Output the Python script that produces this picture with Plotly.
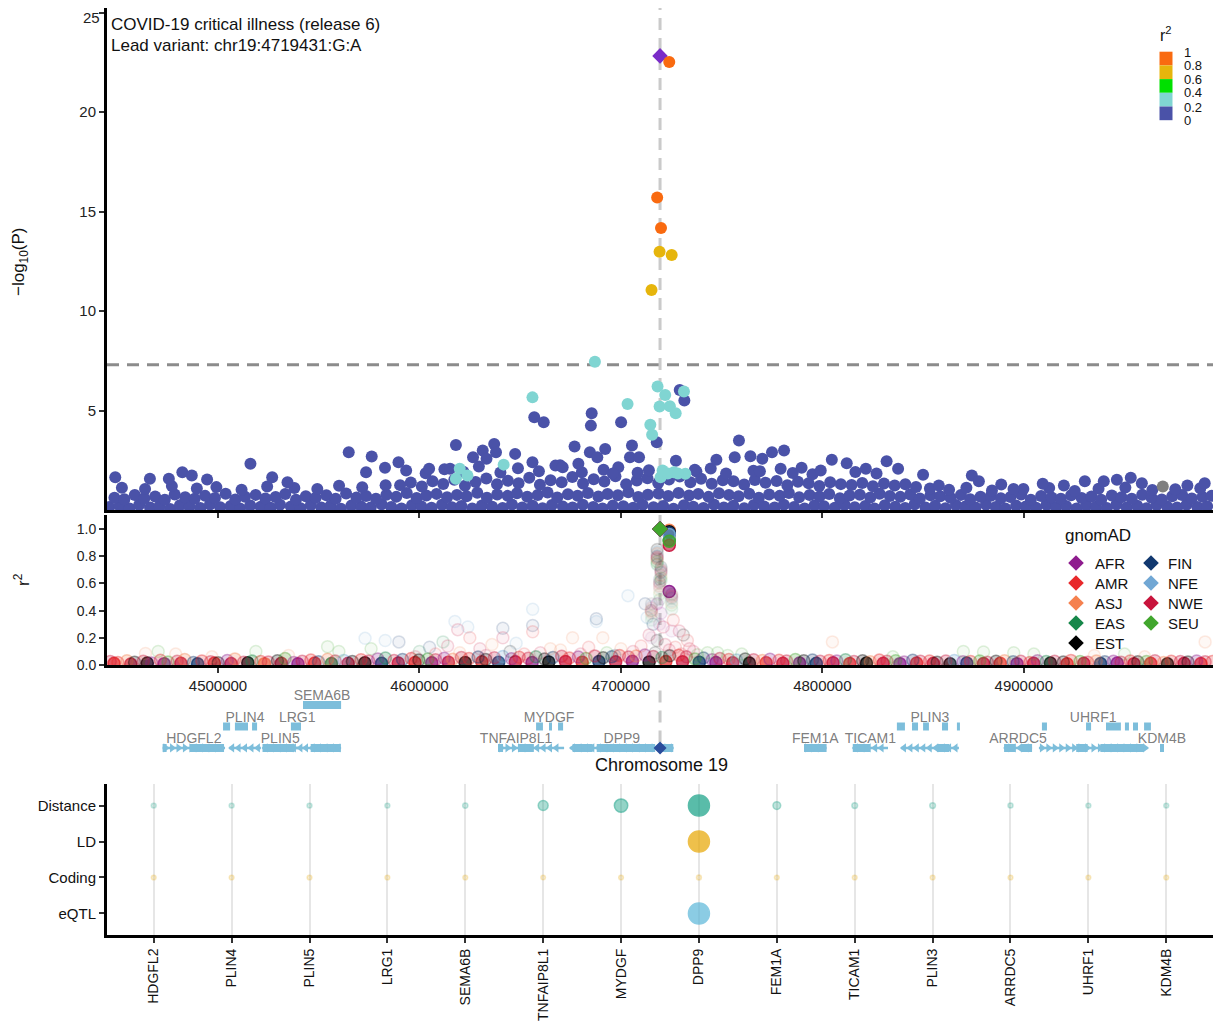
import plotly.graph_objects as go

FONT = "Liberation Sans, Arial, Helvetica, sans-serif"

# ------------------------------------------------------------------ data
lead_pos_kb = 4719.431
lead_logp = 22.82
sig_logp = 7.30
x_ticks_kb = [4500, 4600, 4700, 4800, 4900]
y_ticks_top = [5, 10, 15, 20, 25]

# blue (r2 0-0.2) dense band, row A
band_pos_a = [4446.0, 4451.2, 4456.1, 4460.9, 4466.3, 4471.0, 4476.2, 4481.1, 4485.8, 4491.2,
              4496.0, 4501.1, 4506.3, 4510.9, 4516.0, 4521.2, 4526.1, 4530.8, 4536.2, 4541.0,
              4546.1, 4551.3, 4555.9, 4561.0, 4566.2, 4571.1, 4575.8, 4581.2, 4586.0, 4591.1,
              4596.3, 4600.9, 4606.0, 4611.2, 4616.1, 4620.8, 4626.2, 4631.0, 4636.1, 4641.3,
              4645.9, 4651.0, 4656.2, 4661.1, 4665.8, 4671.2, 4676.0, 4681.1, 4686.3, 4690.9,
              4696.0, 4701.2, 4706.1, 4710.8, 4716.2, 4721.0, 4726.1, 4731.3, 4735.9, 4741.0,
              4746.2, 4751.1, 4755.8, 4761.2, 4766.0, 4771.1, 4776.3, 4780.9, 4786.0, 4791.2,
              4796.1, 4800.8, 4806.2, 4811.0, 4816.1, 4821.3, 4825.9, 4831.0, 4836.2, 4841.1,
              4845.8, 4851.2, 4856.0, 4861.1, 4866.3, 4870.9, 4876.0, 4881.2, 4886.1, 4890.8,
              4896.2, 4901.0, 4906.1, 4911.3, 4915.9, 4921.0, 4926.2, 4931.1, 4935.8, 4941.2,
              4946.0, 4951.1, 4956.3, 4960.9, 4966.0, 4971.2, 4976.1, 4980.8, 4986.2, 4991.0]
band_logp_a = [0.15, 0.21, 0.08, 0.26, 0.12, 0.19, 0.05, 0.24, 0.17, 0.10,
               0.28, 0.14, 0.20, 0.07, 0.23, 0.16, 0.11, 0.27, 0.18, 0.09,
               0.25, 0.13, 0.21, 0.06, 0.22, 0.17, 0.12, 0.29, 0.15, 0.08,
               0.24, 0.19, 0.11, 0.26, 0.14, 0.20, 0.07, 0.23, 0.16, 0.10,
               0.28, 0.13, 0.21, 0.09, 0.25, 0.17, 0.12, 0.27, 0.15, 0.08,
               0.22, 0.19, 0.11, 0.26, 0.14, 0.20, 0.06, 0.24, 0.16, 0.10,
               0.28, 0.13, 0.21, 0.09, 0.25, 0.18, 0.12, 0.27, 0.15, 0.07,
               0.23, 0.19, 0.11, 0.26, 0.14, 0.20, 0.08, 0.24, 0.16, 0.10,
               0.29, 0.13, 0.21, 0.09, 0.25, 0.17, 0.12, 0.27, 0.15, 0.08,
               0.22, 0.18, 0.11, 0.26, 0.14, 0.20, 0.07, 0.23, 0.16, 0.10,
               0.28, 0.13, 0.21, 0.09, 0.25, 0.17, 0.12, 0.27, 0.15, 0.19]
# row B
band_pos_b = [4448.6, 4453.5, 4458.7, 4463.4, 4468.8, 4473.6, 4478.5, 4483.7, 4488.4, 4493.6,
              4498.5, 4503.8, 4508.6, 4513.4, 4518.7, 4523.5, 4528.6, 4533.4, 4538.7, 4543.6,
              4548.5, 4553.8, 4558.4, 4563.6, 4568.7, 4573.5, 4578.4, 4583.6, 4588.5, 4593.7,
              4598.6, 4603.4, 4608.5, 4613.7, 4618.6, 4623.4, 4628.7, 4633.5, 4638.6, 4643.8,
              4648.4, 4653.5, 4658.7, 4663.6, 4668.4, 4673.7, 4678.5, 4683.6, 4688.8, 4693.4,
              4698.5, 4703.7, 4708.6, 4713.4, 4718.7, 4723.5, 4728.6, 4733.8, 4738.4, 4743.5,
              4748.7, 4753.6, 4758.4, 4763.7, 4768.5, 4773.6, 4778.8, 4783.4, 4788.5, 4793.7,
              4798.6, 4803.4, 4808.7, 4813.5, 4818.6, 4823.8, 4828.4, 4833.5, 4838.7, 4843.6,
              4848.4, 4853.7, 4858.5, 4863.6, 4868.8, 4873.4, 4878.5, 4883.7, 4888.6, 4893.4,
              4898.7, 4903.5, 4908.6, 4913.8, 4918.4, 4923.5, 4928.7, 4933.6, 4938.4, 4943.7,
              4948.5, 4953.6, 4958.8, 4963.4, 4968.5, 4973.7, 4978.6, 4983.4, 4988.7, 4993.2]
band_logp_b = [0.62, 0.54, 0.75, 0.59, 0.68, 0.51, 0.78, 0.64, 0.56, 0.71,
               0.60, 0.82, 0.53, 0.67, 0.76, 0.58, 0.65, 0.80, 0.52, 0.69,
               0.61, 0.74, 0.56, 0.83, 0.63, 0.70, 0.57, 0.77, 0.66, 0.85,
               0.60, 0.73, 0.81, 0.64, 0.76, 0.69, 0.87, 0.62, 0.78, 0.71,
               0.84, 0.67, 0.75, 0.88, 0.63, 0.79, 0.72, 0.86, 0.68, 0.80,
               0.74, 0.89, 0.65, 0.77, 0.83, 0.70, 0.86, 0.73, 0.81, 0.66,
               0.84, 0.76, 0.69, 0.82, 0.62, 0.78, 0.71, 0.85, 0.64, 0.75,
               0.68, 0.80, 0.59, 0.73, 0.77, 0.63, 0.82, 0.70, 0.66, 0.78,
               0.58, 0.74, 0.69, 0.61, 0.76, 0.54, 0.67, 0.72, 0.59, 0.65,
               0.78, 0.52, 0.70, 0.63, 0.56, 0.74, 0.60, 0.68, 0.51, 0.73,
               0.64, 0.57, 0.77, 0.62, 0.53, 0.69, 0.75, 0.58, 0.66, 0.71]
# row C (centre of the region)
band_pos_c = [4590.4, 4595.7, 4601.2, 4606.5, 4611.8, 4617.3, 4622.6, 4627.9, 4633.2, 4638.5,
              4643.9, 4649.2, 4654.5, 4659.8, 4665.1, 4670.6, 4675.9, 4681.2, 4686.5, 4691.8,
              4697.3, 4702.6, 4707.9, 4713.2, 4718.5, 4723.9, 4729.2, 4734.5, 4739.8, 4745.1,
              4750.6, 4755.9, 4761.2, 4766.5, 4771.8, 4777.3, 4782.6, 4787.9, 4793.2, 4798.5,
              4803.9, 4809.2, 4814.5, 4819.8, 4825.1, 4830.6, 4835.9, 4841.2, 4846.5]
band_logp_c = [1.25, 1.38, 1.18, 1.45, 1.31, 1.52, 1.22, 1.41, 1.58, 1.29,
               1.47, 1.35, 1.62, 1.27, 1.50, 1.39, 1.66, 1.33, 1.55, 1.43,
               1.70, 1.30, 1.48, 1.60, 1.36, 1.53, 1.68, 1.40, 1.57, 1.32,
               1.49, 1.44, 1.28, 1.51, 1.37, 1.46, 1.24, 1.42, 1.34, 1.21,
               1.39, 1.30, 1.26, 1.36, 1.19, 1.33, 1.23, 1.29, 1.16]
band_pos_l = [4452.3, 4463.8, 4477.1, 4489.5, 4499.2, 4511.7, 4524.4, 4537.9, 4549.3, 4560.1, 4571.6, 4583.2]
band_logp_l = [1.12, 1.05, 1.20, 1.08, 1.15, 1.02, 1.18, 1.10, 1.06, 1.22, 1.14, 1.25]
band_pos_r = [4853.4, 4862.9, 4871.5, 4884.2, 4899.8, 4912.6, 4925.3, 4937.1, 4950.4, 4963.8, 4975.2, 4987.6]
band_logp_r = [1.08, 1.02, 1.12, 0.98, 1.05, 1.10, 0.96, 1.07, 1.13, 1.00, 1.04, 1.09]
band_pos_d = [4603.1, 4612.4, 4621.8, 4629.5, 4640.2, 4648.9, 4659.3, 4669.8, 4680.6, 4691.4,
              4698.7, 4708.3, 4713.9, 4737.5, 4744.6, 4752.2, 4765.8, 4785.3, 4795.1, 4816.4, 4826.9]
band_logp_d = [1.85, 2.05, 1.92, 2.18, 1.88, 2.10, 1.95, 2.25, 1.90, 2.02,
               2.15, 1.87, 2.00, 1.93, 2.08, 1.84, 1.97, 1.86, 1.80, 1.91, 1.83]

# blue (r2 0-0.2) scattered variants
blue_pos = [4449.0, 4466.2, 4475.6, 4482.3, 4487.0, 4494.6, 4516.1, 4526.9, 4534.5, 4564.9,
            4576.3, 4573.5, 4582.9, 4589.6, 4593.4, 4604.8, 4615.2, 4618.1, 4626.6, 4631.4,
            4637.1, 4638.0, 4633.3, 4647.5, 4656.1, 4657.0, 4661.7, 4667.5, 4677.0, 4678.9,
            4684.6, 4688.3, 4692.2, 4685.5, 4685.1, 4700.1, 4705.5, 4704.5, 4709.0, 4717.8,
            4729.2, 4731.5, 4727.3, 4671.1, 4736.7, 4696.0, 4758.6, 4747.4, 4756.5, 4764.3,
            4770.2, 4775.0, 4781.0, 4769.0, 4779.3, 4789.7, 4799.2, 4804.7, 4812.1, 4821.6,
            4831.9, 4837.6, 4850.0, 4857.8, 4874.2, 4877.7, 4888.8, 4894.9, 4909.4, 4919.9,
            4930.3, 4939.7, 4946.2, 4953.1, 4958.6, 4981.2, 4989.8]
blue_logp = [1.65, 1.57, 1.57, 1.90, 1.73, 1.53, 2.32, 1.65, 1.40, 2.90,
             2.69, 1.90, 2.12, 2.40, 1.98, 2.07, 2.07, 3.27, 2.65, 2.99,
             3.32, 2.90, 2.57, 2.82, 2.40, 4.66, 4.41, 2.23, 3.19, 2.32,
             2.90, 2.65, 3.07, 4.86, 4.24, 4.41, 3.24, 2.65, 2.65, 3.40,
             6.03, 5.50, 2.48, 2.15, 2.02, 1.83, 3.49, 2.52, 2.65, 2.70,
             2.57, 2.90, 2.99, 1.95, 2.07, 2.12, 1.98, 2.52, 2.35, 2.07,
             2.45, 2.07, 1.77, 1.23, 1.73, 1.45, 1.28, 1.06, 1.32, 1.23,
             1.45, 1.45, 1.52, 1.62, 1.35, 1.23, 1.35]
grey_pos = [4969.0]
grey_logp = [1.18]
cyan_pos = [4687.1, 4718.2, 4731.3, 4722.0, 4703.3, 4719.2, 4724.3, 4727.2, 4714.6, 4715.5,
            4656.1, 4620.0, 4618.1, 4623.8, 4641.8, 4720.7, 4726.3, 4732.0, 4719.7, 4723.3, 4728.3]
cyan_logp = [7.45, 6.21, 5.96, 5.78, 5.33, 5.20, 5.21, 4.86, 4.28, 3.78,
             5.66, 2.07, 1.57, 1.73, 2.28, 1.98, 1.90, 1.82, 1.65, 1.83, 1.83]
yellow_pos = [4715.2, 4719.2, 4725.2]
yellow_logp = [11.05, 12.98, 12.81]
orange_pos = [4724.0, 4718.0, 4719.9]
orange_logp = [22.51, 15.70, 14.17]

# r2 legend
r2_breaks = ["1", "0.8", "0.6", "0.4", "0.2", "0"]
r2_colors = ["#F96A10", "#E6B50C", "#00E000", "#80D5D2", "#4A52A8"]

# gnomAD LD panel
pops = ["AFR", "AMR", "ASJ", "EAS", "EST", "FIN", "NFE", "NWE", "SEU"]
pop_colors = ["#8E1C8E", "#E8292B", "#F5814F", "#16874A", "#000000",
              "#11386F", "#71A7D4", "#C8143C", "#41A62D"]

peak_pos = [4719.431, 4724.0, 4718.0, 4719.9, 4719.2, 4725.2, 4715.2]
peak_logp = [22.82, 22.51, 15.70, 14.17, 12.98, 12.81, 11.05]
peak_r2 = {
    "AFR": [1.0, 0.54, 0.45, 0.38, 0.30, 0.25, 0.20],
    "AMR": [1.0, 0.96, 0.78, 0.70, 0.58, 0.50, 0.42],
    "ASJ": [1.0, 0.99, 0.82, 0.66, 0.55, 0.46, 0.38],
    "EAS": [1.0, 0.92, 0.74, 0.62, 0.48, 0.41, 0.33],
    "EST": [1.0, 0.98, 0.85, 0.72, 0.61, 0.52, 0.45],
    "FIN": [1.0, 0.97, 0.80, 0.68, 0.63, 0.49, 0.40],
    "NFE": [1.0, 0.96, 0.83, 0.71, 0.57, 0.47, 0.43],
    "NWE": [1.0, 0.88, 0.79, 0.69, 0.60, 0.51, 0.39],
    "SEU": [1.0, 0.91, 0.76, 0.64, 0.52, 0.44, 0.36],
}

ld_band_pos = [4446.5, 4450.3, 4454.8, 4458.6, 4462.9, 4467.1, 4471.4, 4475.2, 4479.7, 4483.5,
               4487.8, 4492.0, 4496.3, 4500.1, 4504.6, 4508.4, 4512.7, 4516.9, 4521.2, 4525.0,
               4529.5, 4533.3, 4537.6, 4541.8, 4546.1, 4549.9, 4554.4, 4558.2, 4562.5, 4566.7,
               4571.0, 4574.8, 4579.3, 4583.1, 4587.4, 4591.6, 4595.9, 4599.7, 4604.2, 4608.0,
               4612.3, 4616.5, 4620.8, 4624.6, 4629.1, 4632.9, 4637.2, 4641.4, 4645.7, 4649.5,
               4654.0, 4657.8, 4662.1, 4666.3, 4670.6, 4674.4, 4678.9, 4682.7, 4687.0, 4691.2,
               4695.5, 4699.3, 4703.8, 4707.6, 4711.9, 4716.1, 4720.4, 4724.2, 4728.7, 4732.5,
               4736.8, 4741.0, 4745.3, 4749.1, 4753.6, 4757.4, 4761.7, 4765.9, 4770.2, 4774.0,
               4778.5, 4782.3, 4786.6, 4790.8, 4795.1, 4798.9, 4803.4, 4807.2, 4811.5, 4815.7,
               4820.0, 4823.8, 4828.3, 4832.1, 4836.4, 4840.6, 4844.9, 4848.7, 4853.2, 4857.0,
               4861.3, 4865.5, 4869.8, 4873.6, 4878.1, 4881.9, 4886.2, 4890.4, 4894.7, 4898.5,
               4903.0, 4906.8, 4911.1, 4915.3, 4919.6, 4923.4, 4927.9, 4931.7, 4936.0, 4940.2,
               4944.5, 4948.3, 4952.8, 4956.6, 4960.9, 4965.1, 4969.4, 4973.2, 4977.7, 4981.5,
               4985.8, 4990.0, 4993.6]
ld_band_pop = ["NWE", "AMR", "ASJ", "EST", "NWE", "AFR", "AMR", "SEU", "NWE", "ASJ",
               "FIN", "AMR", "NWE", "EST", "AFR", "ASJ", "NWE", "EAS", "AMR", "NWE",
               "EST", "SEU", "AFR", "NWE", "AMR", "FIN", "ASJ", "NWE", "NFE", "EST",
               "AMR", "NWE", "AFR", "EAS", "NWE", "FIN", "AMR", "EST", "SEU", "NWE",
               "AFR", "ASJ", "NWE", "AMR", "FIN", "EST", "NWE", "NFE", "AFR", "AMR",
               "NWE", "EAS", "EST", "FIN", "NWE", "AMR", "AFR", "SEU", "NWE", "EST",
               "FIN", "AMR", "NWE", "ASJ", "AFR", "NWE", "EAS", "EST", "AMR", "NWE",
               "SEU", "FIN", "AFR", "NWE", "AMR", "NFE", "EST", "NWE", "ASJ", "AFR",
               "AMR", "NWE", "SEU", "EST", "FIN", "NWE", "AMR", "AFR", "EAS", "NWE",
               "EST", "ASJ", "AMR", "NWE", "SEU", "AFR", "FIN", "NWE", "AMR", "EST",
               "NWE", "NFE", "AFR", "AMR", "SEU", "NWE", "EST", "ASJ", "FIN", "NWE",
               "AMR", "AFR", "EAS", "NWE", "EST", "AMR", "SEU", "NWE", "ASJ", "FIN",
               "AFR", "NWE", "AMR", "EST", "SEU", "NWE", "ASJ", "AMR", "NWE", "EST",
               "AFR", "NWE", "AMR"]
ld_band_r2 = [0.025, 0.018, 0.032, 0.021, 0.028, 0.015, 0.035, 0.022, 0.027, 0.040,
              0.019, 0.030, 0.024, 0.016, 0.033, 0.045, 0.020, 0.029, 0.026, 0.022,
              0.031, 0.048, 0.018, 0.027, 0.036, 0.023, 0.042, 0.029, 0.034, 0.025,
              0.038, 0.030, 0.045, 0.052, 0.033, 0.041, 0.048, 0.036, 0.044, 0.039,
              0.050, 0.043, 0.055, 0.047, 0.058, 0.041, 0.053, 0.062, 0.046, 0.057,
              0.049, 0.060, 0.044, 0.056, 0.065, 0.051, 0.059, 0.048, 0.067, 0.054,
              0.061, 0.070, 0.058, 0.066, 0.073, 0.063, 0.055, 0.068, 0.072, 0.060,
              0.045, 0.052, 0.038, 0.047, 0.041, 0.036, 0.044, 0.039, 0.033, 0.042,
              0.035, 0.029, 0.040, 0.031, 0.037, 0.027, 0.034, 0.030, 0.038, 0.026,
              0.032, 0.024, 0.036, 0.028, 0.031, 0.022, 0.035, 0.027, 0.030, 0.021,
              0.029, 0.033, 0.023, 0.026, 0.030, 0.020, 0.028, 0.032, 0.024, 0.027,
              0.019, 0.031, 0.025, 0.028, 0.022, 0.034, 0.026, 0.021, 0.029, 0.024,
              0.027, 0.020, 0.030, 0.023, 0.026, 0.032, 0.018, 0.028, 0.025, 0.022,
              0.029, 0.024, 0.026]
# second, lower layer of the LD band
ld_band2_pos = [4448.4, 4456.7, 4464.9, 4473.3, 4481.6, 4489.9, 4498.2, 4506.5, 4514.8, 4523.1,
                4531.4, 4539.7, 4548.0, 4556.3, 4564.6, 4572.9, 4581.2, 4589.5, 4597.8, 4606.1,
                4614.4, 4622.7, 4631.0, 4639.3, 4647.6, 4655.9, 4664.2, 4672.5, 4680.8, 4689.1,
                4697.4, 4705.7, 4714.0, 4722.3, 4730.6, 4738.9, 4747.2, 4755.5, 4763.8, 4772.1,
                4780.4, 4788.7, 4797.0, 4805.3, 4813.6, 4821.9, 4830.2, 4838.5, 4846.8, 4855.1,
                4863.4, 4871.7, 4880.0, 4888.3, 4896.6, 4904.9, 4913.2, 4921.5, 4929.8, 4938.1,
                4946.4, 4954.7, 4963.0, 4971.3, 4979.6, 4987.9]
ld_band2_pop = ["AMR", "NWE", "EST", "AFR", "NWE", "FIN", "AMR", "NWE", "EST", "ASJ",
                "NWE", "AFR", "AMR", "EAS", "NWE", "EST", "FIN", "NWE", "AMR", "AFR",
                "NWE", "EST", "AMR", "FIN", "NWE", "AFR", "EST", "NWE", "AMR", "FIN",
                "NWE", "AFR", "EST", "AMR", "NWE", "FIN", "AFR", "NWE", "EST", "AMR",
                "NWE", "AFR", "FIN", "NWE", "AMR", "EST", "NWE", "AFR", "AMR", "NWE",
                "EST", "FIN", "NWE", "AMR", "AFR", "NWE", "EST", "AMR", "NWE", "FIN",
                "AFR", "NWE", "AMR", "EST", "NWE", "AMR"]
ld_band2_r2 = [0.012, 0.008, 0.015, 0.010, 0.013, 0.009, 0.014, 0.011, 0.016, 0.010,
               0.012, 0.009, 0.015, 0.011, 0.013, 0.017, 0.012, 0.015, 0.019, 0.016,
               0.021, 0.018, 0.023, 0.020, 0.024, 0.019, 0.022, 0.026, 0.021, 0.025,
               0.023, 0.027, 0.022, 0.026, 0.024, 0.020, 0.018, 0.016, 0.014, 0.017,
               0.013, 0.015, 0.012, 0.016, 0.011, 0.014, 0.013, 0.010, 0.015, 0.012,
               0.009, 0.014, 0.011, 0.013, 0.010, 0.012, 0.015, 0.009, 0.013, 0.011,
               0.014, 0.010, 0.012, 0.009, 0.013, 0.011]

ghost_pos = [4464.0, 4470.3, 4479.0, 4497.0, 4518.8, 4535.0, 4554.4, 4560.0, 4573.0, 4576.0,
             4583.0, 4589.8, 4600.0, 4605.0, 4611.7, 4614.0, 4617.6, 4619.0, 4624.0, 4625.0,
             4630.0, 4636.0, 4641.4, 4641.4, 4648.0, 4656.2, 4656.2, 4656.2, 4665.0, 4676.0,
             4687.8, 4687.8, 4691.0, 4693.0, 4700.0, 4703.5, 4712.0, 4713.0, 4714.0, 4715.0,
             4716.0, 4718.0, 4721.0, 4722.0, 4726.0, 4727.0, 4729.0, 4731.0, 4733.0, 4734.0,
             4738.0, 4743.0, 4748.0, 4753.0, 4760.0, 4805.0, 4835.0, 4870.0, 4880.0, 4895.0,
             4905.0, 4935.0, 4950.0, 4960.0, 4990.0,
             4598.0, 4608.0, 4620.0, 4633.0, 4645.0, 4652.0, 4660.0, 4670.0, 4680.0, 4684.0,
             4697.0, 4706.0, 4710.0, 4717.0, 4724.0, 4730.0, 4736.0]
ghost_r2 = [0.085, 0.10, 0.08, 0.06, 0.10, 0.07, 0.135, 0.10, 0.196, 0.12,
            0.18, 0.17, 0.10, 0.13, 0.17, 0.14, 0.32, 0.26, 0.28, 0.20,
            0.12, 0.15, 0.27, 0.20, 0.16, 0.41, 0.29, 0.245, 0.12, 0.20,
            0.34, 0.32, 0.20, 0.09, 0.12, 0.51, 0.45, 0.35, 0.22, 0.40,
            0.30, 0.18, 0.28, 0.15, 0.33, 0.13, 0.25, 0.22, 0.18, 0.12,
            0.075, 0.09, 0.09, 0.07, 0.08, 0.17, 0.06, 0.10, 0.095, 0.09,
            0.08, 0.07, 0.08, 0.06, 0.17,
            0.06, 0.08, 0.09, 0.07, 0.10, 0.08, 0.09, 0.11, 0.08, 0.13,
            0.07, 0.10, 0.14, 0.09, 0.11, 0.08, 0.10]
ghost_pop = ["ASJ", "SEU", "ASJ", "ASJ", "SEU", "ASJ", "SEU", "SEU", "NFE", "SEU",
             "NFE", "FIN", "EAS", "FIN", "EAS", "NWE", "NFE", "NWE", "NFE", "AMR",
             "NWE", "ASJ", "FIN", "NWE", "NFE", "NFE", "FIN", "AMR", "ASJ", "ASJ",
             "FIN", "NFE", "ASJ", "SEU", "ASJ", "NFE", "FIN", "NFE", "NWE", "ASJ",
             "FIN", "EST", "NWE", "NWE", "AMR", "AMR", "NWE", "EST", "AMR", "NWE",
             "SEU", "SEU", "SEU", "SEU", "SEU", "ASJ", "SEU", "SEU", "SEU", "SEU",
             "SEU", "ASJ", "SEU", "ASJ", "ASJ",
             "NWE", "AMR", "ASJ", "NWE", "EST", "AMR", "NWE", "ASJ", "NWE", "AMR",
             "FIN", "NWE", "AMR", "EST", "NWE", "AMR", "NWE"]

# gene track
gene_names = ["HDGFL2", "PLIN4", "PLIN5", "LRG1", "SEMA6B", "TNFAIP8L1", "MYDGF",
              "DPP9", "FEM1A", "TICAM1", "PLIN3", "ARRDC5", "UHRF1", "KDM4B"]
gene_start = [4472.5, 4505.5, 4522.1, 4536.2, 4542.2, 4639.0, 4656.9,
              4674.7, 4790.9, 4815.1, 4839.0, 4890.2, 4907.5, 4967.6]
gene_end = [4503.5, 4521.3, 4539.7, 4542.5, 4561.1, 4656.9, 4671.8,
            4726.2, 4802.1, 4832.6, 4867.8, 4904.1, 4961.4, 4969.6]
gene_strand = ["+", "-", "-", "-", "-", "+", "-", "-", "+", "-", "-", "-", "+", "+"]
gene_label_row = [1, 2, 1, 2, 3, 1, 2, 1, 1, 1, 2, 1, 2, 1]
thick_start = [4472.5, 4486.0, 4522.1, 4546.0, 4639.0, 4648.9, 4676.0, 4688.0, 4720.0,
               4790.9, 4815.1, 4857.0, 4890.2, 4899.0, 4926.0, 4938.0, 4967.6]
thick_end = [4474.5, 4503.0, 4538.0, 4561.0, 4641.5, 4656.8, 4686.0, 4717.0, 4726.0,
             4802.1, 4823.7, 4863.0, 4896.0, 4904.1, 4931.7, 4959.6, 4969.6]
exon_start = [4502.5, 4508.4, 4516.9, 4536.2, 4542.2, 4657.9, 4664.3, 4668.8, 4837.0, 4844.5,
              4850.0, 4859.4, 4866.8, 4909.0, 4930.9, 4940.8, 4950.2, 4954.2, 4959.7]
exon_end = [4506.0, 4514.9, 4519.4, 4541.2, 4561.1, 4661.3, 4665.8, 4671.3, 4841.0, 4847.5,
            4852.9, 4862.4, 4868.3, 4911.5, 4933.4, 4948.2, 4952.2, 4956.7, 4963.1]
exon_row = [2, 2, 2, 2, 3, 2, 2, 2, 2, 2, 2, 2, 2, 2, 2, 2, 2, 2, 2]

# bottom: gene prioritisation
evidence_rows = ["Distance", "LD", "Coding", "eQTL"]
score_distance = [0.05, 0.05, 0.05, 0.05, 0.07, 0.35, 0.55, 1.0, 0.22, 0.10, 0.10, 0.06, 0.05, 0.05]
score_ld = [0, 0, 0, 0, 0, 0, 0, 1.0, 0, 0, 0, 0, 0, 0]
score_coding = [0.04, 0.04, 0.04, 0.04, 0.04, 0.03, 0.04, 0.05, 0.04, 0.04, 0.04, 0.04, 0.04, 0.04]
score_eqtl = [0, 0, 0, 0, 0, 0, 0, 1.0, 0, 0, 0, 0, 0, 0]

# ------------------------------------------------------------------ geometry helpers
# the page body has an 8 px margin, so the figure is placed at (8, 8)
OFF = 8
FW, FH = 1225 - OFF, 1026 - OFF
X_L, X_R = 107, 1213
KB_PER_PX = 1 / 2.0145
X_RANGE = [(4500 - (218 - X_L) * KB_PER_PX) * 1000, (4900 + (X_R - 1023.8) * KB_PER_PX) * 1000]


def clamp(v):
    return max(0.0, min(1.0, v))


def xd(l, r):
    return [clamp((l - OFF) / FW), clamp((r - OFF) / FW)]


def yd(t, b):
    return [clamp(1 - (b - OFF) / FH), clamp(1 - (t - OFF) / FH)]


def px(x):
    return (x - OFF) / FW


def py(y):
    return 1 - (y - OFF) / FH


def rgba(h, a):
    h = h.lstrip('#')
    return "rgba(%d,%d,%d,%.3f)" % (int(h[0:2], 16), int(h[2:4], 16), int(h[4:6], 16), max(0, min(1, a)))


def bp(v):
    return [p * 1000 for p in v]


pop_col = dict(zip(pops, pop_colors))
fig = go.Figure()

# ------------------------------------------------------------------ top panel
blue_all_pos = band_pos_a + band_pos_b + band_pos_l + band_pos_r + band_pos_c + band_pos_d + blue_pos
blue_all_logp = band_logp_a + band_logp_b + band_logp_l + band_logp_r + band_logp_c + band_logp_d + blue_logp


def top_points(pos, vals, color, size=12, symbol="circle"):
    fig.add_trace(go.Scatter(x=bp(pos), y=vals, mode="markers", xaxis="x", yaxis="y",
                             marker=dict(size=size, color=color, symbol=symbol, line=dict(width=0)),
                             hoverinfo="skip"))


top_points(blue_all_pos, blue_all_logp, r2_colors[4])
top_points(grey_pos, grey_logp, "#7F7F7F")
top_points(cyan_pos, cyan_logp, r2_colors[3])
top_points(yellow_pos, yellow_logp, r2_colors[1])
top_points([lead_pos_kb], [lead_logp], "#7A2CC8", size=12, symbol="diamond")
top_points(orange_pos, orange_logp, r2_colors[0])

# ------------------------------------------------------------------ LD panel
for bpos, bpop, br2, fa, la in ((ld_band2_pos, ld_band2_pop, ld_band2_r2, 0.70, 0.80),
                                (ld_band_pos, ld_band_pop, ld_band_r2, 0.22, 0.38)):
    n = min(len(bpos), len(bpop), len(br2))
    fig.add_trace(go.Scatter(x=bp(bpos[:n]), y=br2[:n], mode="markers", xaxis="x2", yaxis="y2",
                             marker=dict(size=12, color=[rgba(pop_col[p], fa) for p in bpop[:n]],
                                         line=dict(width=1.5, color=[rgba(pop_col[p], la) for p in bpop[:n]])),
                             hoverinfo="skip"))
ng = min(len(ghost_pos), len(ghost_r2), len(ghost_pop))
fig.add_trace(go.Scatter(x=bp(ghost_pos[:ng]), y=ghost_r2[:ng], mode="markers", xaxis="x2", yaxis="y2",
                         marker=dict(size=12, color=[rgba(pop_col[p], 0.06) for p in ghost_pop[:ng]],
                                     line=dict(width=1.5, color=[rgba(pop_col[p], 0.16) for p in ghost_pop[:ng]])),
                         hoverinfo="skip"))
# variants near the lead, opacity grows with significance
for p in pops:
    alphas = [0.05 + 0.95 * (lp / lead_logp) ** 6 for lp in peak_logp[1:]]
    fig.add_trace(go.Scatter(x=bp(peak_pos[1:]), y=peak_r2[p][1:], mode="markers", xaxis="x2", yaxis="y2",
                             marker=dict(size=12, color=[rgba(pop_col[p], a * 0.7) for a in alphas],
                                         line=dict(width=1.5, color=[rgba(pop_col[p], a) for a in alphas])),
                             hoverinfo="skip"))
for p in pops:
    fig.add_trace(go.Scatter(x=bp(peak_pos[:1]), y=peak_r2[p][:1], mode="markers", xaxis="x2", yaxis="y2",
                             marker=dict(size=12, symbol="diamond", color=pop_col[p], line=dict(width=0)),
                             hoverinfo="skip"))

# ------------------------------------------------------------------ gene track
GENE_COL = "#7DBEDB"
bx, by = [], []
for s, e in zip(gene_start, gene_end):
    bx += [s * 1000, e * 1000, None]
    by += [1, 1, None]
fig.add_trace(go.Scatter(x=bx, y=by, mode="lines", xaxis="x3", yaxis="y3", cliponaxis=False,
                         line=dict(color=GENE_COL, width=2.5), hoverinfo="skip"))
tx, ty = [], []
for s, e in zip(thick_start, thick_end):
    tx += [s * 1000, e * 1000, None]
    ty += [1, 1, None]
for s, e, r in zip(exon_start, exon_end, exon_row):
    tx += [s * 1000, e * 1000, None]
    ty += [r, r, None]
fig.add_trace(go.Scatter(x=tx, y=ty, mode="lines", xaxis="x3", yaxis="y3", cliponaxis=False,
                         line=dict(color=GENE_COL, width=8), hoverinfo="skip"))
for strand, sym in (("-", "triangle-left"), ("+", "triangle-right")):
    ax = []
    for s, e, st in zip(gene_start, gene_end, gene_strand):
        if st != strand or e - s < 4:
            continue
        q = s + 1.5
        while q < e - 1:
            ax.append(q * 1000)
            q += 3.2
    fig.add_trace(go.Scatter(x=ax, y=[1] * len(ax), mode="markers", xaxis="x3", yaxis="y3", cliponaxis=False,
                             marker=dict(symbol=sym, size=8, color=GENE_COL, line=dict(width=0)),
                             hoverinfo="skip"))
fig.add_trace(go.Scatter(x=[(s + e) / 2 * 1000 for s, e in zip(gene_start, gene_end)],
                         y=[r + 0.38 for r in gene_label_row], text=gene_names, mode="text",
                         xaxis="x3", yaxis="y3", cliponaxis=False,
                         textfont=dict(family=FONT, size=14, color="rgba(110,110,110,0.9)"),
                         hoverinfo="skip"))
fig.add_trace(go.Scatter(x=[lead_pos_kb * 1000], y=[1], mode="markers", xaxis="x3", yaxis="y3", cliponaxis=False,
                         marker=dict(symbol="diamond", size=10, color="#2A4C9B", line=dict(width=0)),
                         hoverinfo="skip"))

# ------------------------------------------------------------------ evidence panel
ev_colors = {"Distance": "#14A085", "LD": "#E8A600", "Coding": "#E8A600", "eQTL": "#5BB7D9"}
for row, scores in (("Distance", score_distance), ("LD", score_ld),
                    ("Coding", score_coding), ("eQTL", score_eqtl)):
    g = [gene_names[i] for i in range(len(gene_names)) if scores[i] > 0]
    s = [scores[i] for i in range(len(gene_names)) if scores[i] > 0]
    c = ev_colors[row]
    fig.add_trace(go.Scatter(x=g, y=[row] * len(g), mode="markers", xaxis="x4", yaxis="y4", cliponaxis=False,
                             marker=dict(size=[4 + 17 * v for v in s],
                                         color=[rgba(c, 0.22 + 0.78 * v) for v in s],
                                         line=dict(width=1.5, color=[rgba(c, min(1, 0.3 + 0.9 * v)) for v in s])),
                             hoverinfo="skip"))

# ------------------------------------------------------------------ gnomAD legend (overlay, page pixels)
leg_x = [1076, 1076, 1076, 1076, 1076, 1151, 1151, 1151, 1151]
leg_y = [563, 583, 603, 623, 643, 563, 583, 603, 623]
fig.add_trace(go.Scatter(x=leg_x, y=leg_y, mode="markers", xaxis="x5", yaxis="y5", cliponaxis=False,
                         marker=dict(symbol="diamond", size=12, color=pop_colors, line=dict(width=0)),
                         hoverinfo="skip"))

# ------------------------------------------------------------------ layout
ax_common = dict(showline=True, linecolor="black", linewidth=3, ticks="outside", ticklen=5,
                 tickwidth=2, tickcolor="#333333", showgrid=False, zeroline=False, automargin=False,
                 tickfont=dict(family=FONT, size=15, color="#222222"), fixedrange=True)

TOP_Y0, TOP_Y1 = 8, 510
TOP_PX_PER_UNIT = 19.9
# the topmost tick label would be clipped by the page edge: it is drawn as an annotation instead
top_tick_text = [str(v) if v != y_ticks_top[-1] else "" for v in y_ticks_top]
fig.update_layout(
    width=FW, height=FH, autosize=False, margin=dict(l=0, r=0, t=0, b=0),
    paper_bgcolor="white", plot_bgcolor="rgba(0,0,0,0)", showlegend=False,
    font=dict(family=FONT, color="#222222"),
    xaxis=dict(ax_common, domain=xd(X_L, X_R), range=X_RANGE, anchor="y",
               tickvals=bp(x_ticks_kb), showticklabels=False),
    yaxis=dict(ax_common, domain=yd(TOP_Y0, TOP_Y1), range=[0, (TOP_Y1 - TOP_Y0) / TOP_PX_PER_UNIT], anchor="x",
               tickvals=y_ticks_top, ticktext=top_tick_text),
    xaxis2=dict(ax_common, domain=xd(X_L, X_R), range=X_RANGE, anchor="y2",
                tickvals=bp(x_ticks_kb), ticktext=[str(v * 1000) for v in x_ticks_kb]),
    yaxis2=dict(ax_common, domain=yd(515, 665), range=[0, 150 / 136], anchor="x2",
                tickvals=[0, 0.2, 0.4, 0.6, 0.8, 1.0], ticktext=["0.0", "0.2", "0.4", "0.6", "0.8", "1.0"],
                tickfont=dict(family=FONT, size=14, color="#222222")),
    xaxis3=dict(domain=xd(X_L, X_R), range=X_RANGE, anchor="y3", visible=False, fixedrange=True),
    yaxis3=dict(domain=yd(690, 760), range=[0.44, 3.70], anchor="x3", visible=False, fixedrange=True),
    xaxis4=dict(ax_common, domain=xd(X_L, X_R), anchor="y4", type="category",
                categoryorder="array", categoryarray=gene_names, range=[-0.6, 13.6],
                tickangle=-90, showgrid=True, gridcolor="#E6E6E6", gridwidth=2,
                tickfont=dict(family=FONT, size=14, color="#111111")),
    yaxis4=dict(ax_common, domain=yd(784, 935), anchor="x4", type="category",
                categoryorder="array", categoryarray=evidence_rows[::-1], range=[-0.6, 3.6],
                tickfont=dict(family=FONT, size=15, color="#111111")),
    xaxis5=dict(domain=[0, 1], range=[OFF, OFF + FW], anchor="y5", visible=False, fixedrange=True),
    yaxis5=dict(domain=[0, 1], range=[OFF + FH, OFF], anchor="x5", visible=False, fixedrange=True),
)

vline = dict(color="#CACACA", width=3, dash="12px,8px")
shapes = [
    dict(type="line", xref="x domain", yref="y", x0=0, x1=1, y0=sig_logp, y1=sig_logp,
         line=dict(color="#8C8C8C", width=3, dash="12px,8px"), layer="below"),
    dict(type="line", xref="x", yref="y domain", x0=lead_pos_kb * 1000, x1=lead_pos_kb * 1000, y0=0, y1=1,
         line=vline, layer="below"),
    dict(type="line", xref="x2", yref="y2 domain", x0=lead_pos_kb * 1000, x1=lead_pos_kb * 1000, y0=0, y1=1,
         line=vline, layer="below"),
    dict(type="line", xref="x3", yref="y3 domain", x0=lead_pos_kb * 1000, x1=lead_pos_kb * 1000, y0=0.25, y1=1,
         line=vline, layer="below"),
]
box_top = 51.7
for i, c in enumerate(r2_colors):
    shapes.append(dict(type="rect", xref="paper", yref="paper", x0=px(1159.5), x1=px(1172.5),
                       y0=py(box_top + 13.7 * (i + 1)), y1=py(box_top + 13.7 * i),
                       fillcolor=c, line=dict(width=0)))
fig.update_layout(shapes=shapes)

ann = []


def add_text(text, x, y, size, xanchor="left", yanchor="middle", angle=0, color="#111111"):
    ann.append(dict(text=text, x=px(x), y=py(y), xref="paper", yref="paper", showarrow=False,
                    xanchor=xanchor, yanchor=yanchor, textangle=angle, borderpad=0,
                    font=dict(family=FONT, size=size, color=color)))


# top tick label "25", kept just inside the page
ann.append(dict(text=str(y_ticks_top[-1]), x=px(101), y=1, xref="paper", yref="paper", showarrow=False,
                xanchor="right", yanchor="top", borderpad=0,
                font=dict(family=FONT, size=15, color="#222222")))
add_text("COVID-19 critical illness (release 6)", 110, 24, 17)
add_text("Lead variant: chr19:4719431:G:A", 110, 46, 17)
add_text("\u2212log<sub>10</sub>(P)", 20, 262, 17, xanchor="center", angle=-90)
add_text("r<sup>2</sup>", 22, 580, 17, xanchor="center", angle=-90)
add_text("Chromosome 19", 661, 765, 18, xanchor="center")
add_text("r<sup>2</sup>", 1166, 34, 16, xanchor="center")
for lab, yy in zip(r2_breaks, [52, 65.5, 79, 93, 107, 120.5]):
    add_text(lab, 1183, yy, 13)
add_text("gnomAD", 1064, 535, 17)
for lab, xx, yy in zip(pops, [1094] * 5 + [1167] * 4, leg_y):
    add_text(lab, xx, yy, 15)
fig.update_layout(annotations=ann)

fig.write_html("out.html")
